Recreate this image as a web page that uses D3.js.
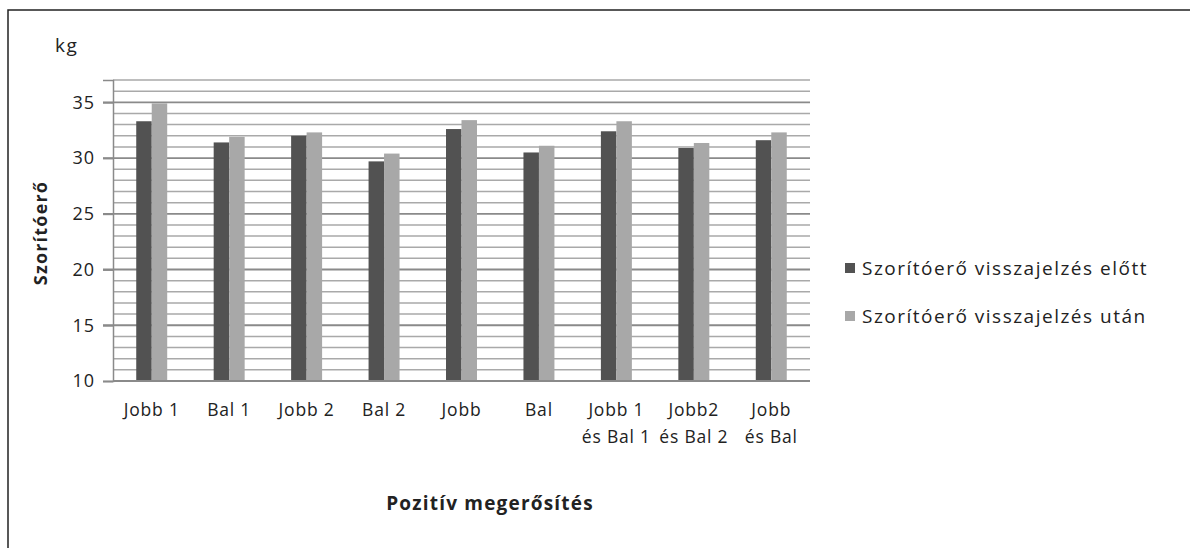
<!DOCTYPE html>
<html>
<head>
<meta charset="utf-8">
<script src="https://cdn.jsdelivr.net/npm/d3@7/dist/d3.min.js"></script>
<style>
  html, body { margin: 0; padding: 0; background: #fff; }
  svg { display: block; font-family: "Open Sans", Lato, sans-serif; }
</style>
</head>
<body>
<svg id="chart" width="1190" height="548"></svg>
<script>
// Grip strength (kg) per positive-reinforcement condition
const categories = [
  ["Jobb 1"], ["Bal 1"], ["Jobb 2"], ["Bal 2"], ["Jobb"], ["Bal"],
  ["Jobb 1", "és Bal 1"], ["Jobb2", "és Bal 2"], ["Jobb", "és Bal"]
];
const seriesNames = ["Szorítóerő visszajelzés előtt", "Szorítóerő visszajelzés után"];
const before = [33.3, 31.4, 32.0, 29.7, 32.6, 30.5, 32.4, 30.9, 31.6];
const after  = [34.9, 31.9, 32.3, 30.4, 33.4, 31.1, 33.3, 31.35, 32.3];
const yTicks = [10, 15, 20, 25, 30, 35];
const yMin = 10, yMax = 37;

const colors = ["#525252", "#a8a8a8"];
const FONT = "'Open Sans', Lato, sans-serif";

const svg = d3.select("#chart");

// outer frame (top and left edges visible)
svg.append("rect")
  .attr("x", 8).attr("y", 10)
  .attr("width", 1200).attr("height", 600)
  .attr("fill", "none").attr("stroke", "#222").attr("stroke-width", 1.5);

const plot = { left: 113, right: 810, top: 80, bottom: 381 };

const x = d3.scaleBand()
  .domain(d3.range(categories.length))
  .range([plot.left, plot.right])
  .paddingInner(0.6)
  .paddingOuter(0.3);

const xs = d3.scaleBand()
  .domain([0, 1])
  .range([0, x.bandwidth()]);

const y = d3.scaleLinear()
  .domain([yMin, yMax])
  .range([plot.bottom, plot.top]);

// minor gridlines every 1 kg
const minor = d3.range(yMin + 1, yMax + 1).filter(v => v % 5 !== 0);
svg.append("g").selectAll("line")
  .data(minor)
  .join("line")
  .attr("x1", plot.left).attr("x2", plot.right)
  .attr("y1", d => y(d)).attr("y2", d => y(d))
  .attr("stroke", "#a9a9a9").attr("stroke-width", 1.5);

// major gridlines with outward ticks
svg.append("g").selectAll("line")
  .data(yTicks.filter(v => v !== yMin))
  .join("line")
  .attr("x1", plot.left - 10).attr("x2", plot.right)
  .attr("y1", d => y(d)).attr("y2", d => y(d))
  .attr("stroke", "#8a8a8a").attr("stroke-width", 1.8);

// bars
const data = categories.map((c, i) => ({ i, vals: [before[i], after[i]] }));
const groups = svg.append("g").selectAll("g")
  .data(data)
  .join("g")
  .attr("transform", d => `translate(${x(d.i)},0)`);
groups.selectAll("rect")
  .data(d => d.vals.map((v, s) => ({ v, s })))
  .join("rect")
  .attr("x", d => xs(d.s))
  .attr("width", xs.bandwidth())
  .attr("y", d => y(d.v))
  .attr("height", d => y(yMin) - y(d.v))
  .attr("fill", d => colors[d.s]);

// y axis
const yAxis = svg.append("g")
  .attr("transform", `translate(${plot.left},0)`)
  .call(d3.axisLeft(y).tickValues(yTicks).tickSize(10).tickPadding(8));
yAxis.select(".domain").attr("stroke", "#8a8a8a").attr("stroke-width", 1.5);
yAxis.selectAll(".tick line").attr("stroke", "#8a8a8a").attr("stroke-width", 1.8);
yAxis.selectAll(".tick text")
  .attr("font-size", 18).attr("fill", "#222")
  .attr("letter-spacing", "0.9px")
  .attr("font-family", FONT);

// x axis baseline
svg.append("line")
  .attr("x1", plot.left).attr("x2", plot.right)
  .attr("y1", plot.bottom).attr("y2", plot.bottom)
  .attr("stroke", "#8a8a8a").attr("stroke-width", 1.8);

// category labels
const xl = svg.append("g").selectAll("text")
  .data(data)
  .join("text")
  .attr("x", d => x(d.i) + x.bandwidth() / 2)
  .attr("y", 416)
  .attr("text-anchor", "middle")
  .attr("font-size", 17.5)
  .attr("letter-spacing", "0.8px")
  .attr("fill", "#222");
xl.selectAll("tspan")
  .data(d => categories[d.i].map(t => ({ t, cx: x(d.i) + x.bandwidth() / 2 })))
  .join("tspan")
  .attr("x", d => d.cx)
  .attr("dy", (d, k) => k === 0 ? 0 : 27)
  .text(d => d.t);

// axis titles
svg.append("text")
  .attr("x", 490).attr("y", 510)
  .attr("text-anchor", "middle")
  .attr("font-size", 19).attr("font-weight", "bold").attr("fill", "#222")
  .attr("letter-spacing", "1.2px")
  .text("Pozitív megerősítés");

svg.append("text")
  .attr("transform", `translate(47,233) rotate(-90)`)
  .attr("text-anchor", "middle")
  .attr("font-size", 18).attr("font-weight", "bold").attr("fill", "#222")
  .attr("letter-spacing", "1.2px")
  .text("Szorítóerő");

svg.append("text")
  .attr("x", 55).attr("y", 52)
  .attr("font-size", 19).attr("fill", "#222")
  .attr("letter-spacing", "1.5px")
  .text("kg");

// legend
const legend = svg.append("g").selectAll("g")
  .data(seriesNames)
  .join("g")
  .attr("transform", (d, i) => `translate(845,${268 + i * 48})`);
legend.append("rect")
  .attr("x", 0).attr("y", -5)
  .attr("width", 10).attr("height", 10)
  .attr("fill", (d, i) => colors[i]);
legend.append("text")
  .attr("x", 17).attr("y", 7)
  .attr("font-size", 19).attr("fill", "#222")
  .attr("letter-spacing", "1.5px")
  .text(d => d);
</script>
</body>
</html>
